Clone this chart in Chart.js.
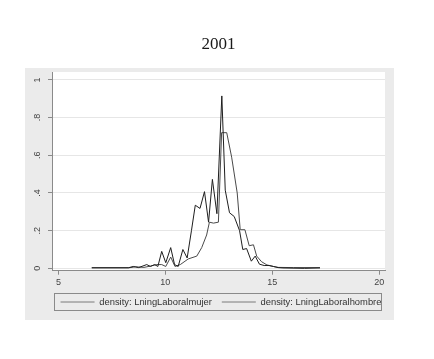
<!DOCTYPE html>
<html>
<head>
<meta charset="utf-8">
<script src="https://cdn.jsdelivr.net/npm/chart.js@4/dist/chart.umd.min.js"></script>
<style>
  html, body { margin: 0; padding: 0; background: #ffffff; }
  #wrap { width: 434px; height: 359px; }
</style>
</head>
<body>
<div id="wrap"><canvas id="c" width="434" height="359"></canvas></div>
<script>
const chartTitle = "2001";
const seriesNames = ["density: LningLaboralmujer", "density: LningLaboralhombre"];

const xMujer = [6.56, 8.27, 8.5, 8.75, 9.13, 9.3, 9.5, 9.65, 9.83, 10.02, 10.25, 10.43, 10.6, 10.82, 11.02, 11.22, 11.4, 11.62, 11.83, 12.02, 12.2, 12.41, 12.64, 12.8, 13.0, 13.22, 13.47, 13.62, 13.8, 14.02, 14.2, 14.4, 14.62, 14.85, 15.05, 15.27, 15.5, 16.5, 17.23];
const yMujer = [0.003, 0.003, 0.01, 0.004, 0.02, 0.01, 0.02, 0.01, 0.09, 0.03, 0.11, 0.02, 0.01, 0.10, 0.055, 0.2, 0.335, 0.318, 0.407, 0.245, 0.472, 0.29, 0.915, 0.415, 0.295, 0.275, 0.2, 0.1, 0.105, 0.038, 0.065, 0.022, 0.015, 0.015, 0.01, 0.004, 0.002, 0.0, 0.002];

const xHombre = [6.56, 8.3, 8.6, 9.0, 9.3, 9.6, 9.83, 10.02, 10.25, 10.45, 10.7, 11.07, 11.47, 11.7, 11.93, 12.06, 12.25, 12.48, 12.63, 12.87, 13.1, 13.36, 13.5, 13.72, 13.92, 14.12, 14.27, 14.5, 14.75, 15.05, 15.28, 16.0, 17.23];
const yHombre = [0.003, 0.003, 0.008, 0.005, 0.012, 0.02, 0.02, 0.01, 0.06, 0.01, 0.02, 0.05, 0.065, 0.11, 0.177, 0.245, 0.24, 0.245, 0.72, 0.72, 0.59, 0.40, 0.205, 0.205, 0.12, 0.125, 0.065, 0.035, 0.018, 0.01, 0.005, 0.004, 0.004];

const xTicks = [5, 10, 15, 20];
const yTicks = [0, 0.2, 0.4, 0.6, 0.8, 1];
const yTickLabels = ["0", ".2", ".4", ".6", ".8", "1"];

function toPoints(xs, ys) { return xs.map((x, i) => ({ x: x, y: ys[i] })); }

const panelPlugin = {
  id: 'panel',
  beforeDraw(chart) {
    const ctx = chart.ctx;
    const a = chart.chartArea;
    ctx.save();
    ctx.fillStyle = '#ebebeb';
    ctx.fillRect(25, 68, 369, 252);
    ctx.fillStyle = '#ffffff';
    ctx.fillRect(a.left, a.top, a.right - a.left, a.bottom - a.top);
    ctx.restore();
  },
  afterDraw(chart) {
    const lg = chart.legend;
    if (!lg) return;
    const ctx = chart.ctx;
    const a = chart.chartArea;
    const pad = lg.options.labels.padding;
    const rowTop = lg.top + pad;
    ctx.save();
    ctx.strokeStyle = '#8a8a8a';
    ctx.lineWidth = 1;
    ctx.strokeRect(Math.round(a.left + 2) + 0.5, Math.round(rowTop - 4) + 0.5, Math.round(a.right - a.left - 6), 17);
    ctx.restore();
  }
};

new Chart(document.getElementById('c'), {
  type: 'line',
  data: {
    datasets: [
      { label: seriesNames[0], data: toPoints(xMujer, yMujer), borderColor: '#1e1e1e', borderWidth: 1, pointRadius: 0, tension: 0, fill: false },
      { label: seriesNames[1], data: toPoints(xHombre, yHombre), borderColor: '#4a4a4a', borderWidth: 1, pointRadius: 0, tension: 0, fill: false }
    ]
  },
  options: {
    responsive: false,
    animation: false,
    events: [],
    layout: { padding: { top: 34.8, left: 8, right: 0, bottom: 42.3 } },
    plugins: {
      title: {
        display: true, text: chartTitle, fullSize: false,
        font: { family: 'Liberation Serif', size: 17, weight: 'normal' },
        color: '#1a1a1a',
        padding: { top: 0, bottom: 16.8 }
      },
      legend: {
        display: true, position: 'bottom', fullSize: true,
        labels: {
          usePointStyle: true, pointStyle: 'line', pointStyleWidth: 34,
          padding: 10,
          font: { family: 'Liberation Sans', size: 9.4 },
          color: '#333333',
          generateLabels(chart) {
            const items = Chart.defaults.plugins.legend.labels.generateLabels(chart);
            items.forEach(it => { it.strokeStyle = '#7a7a7a'; it.lineWidth = 1; });
            return items;
          }
        }
      },
      tooltip: { enabled: false }
    },
    scales: {
      x: {
        type: 'linear', min: 4.7, max: 20.27,
        afterBuildTicks(s) { s.ticks = xTicks.map(v => ({ value: v })); },
        afterFit(s) { s.height = 16.6; },
        grid: { drawOnChartArea: false, drawTicks: true, tickLength: 4, tickColor: '#8a8a8a' },
        border: { color: '#8a8a8a', width: 1 },
        ticks: { font: { family: 'Liberation Sans', size: 9 }, color: '#444444', padding: 2, maxRotation: 0, minRotation: 0 }
      },
      y: {
        type: 'linear', min: -0.0125, max: 1.042,
        afterBuildTicks(s) { s.ticks = yTicks.map(v => ({ value: v })); },
        afterFit(s) { s.width = 44; },
        grid: { color: '#e6e6e6', drawTicks: true, tickLength: 4, tickColor: '#8a8a8a' },
        border: { color: '#8a8a8a', width: 1 },
        ticks: {
          font: { family: 'Liberation Sans', size: 9 }, color: '#444444', padding: 7,
          minRotation: 90, maxRotation: 90, crossAlign: 'center',
          callback(v) { const i = yTicks.indexOf(v); return i >= 0 ? yTickLabels[i] : ''; }
        }
      },
      spacer: {
        type: 'linear', position: 'right', display: true,
        afterFit(s) { s.width = 49; },
        grid: { display: false, drawTicks: false },
        border: { display: false },
        ticks: { display: false }
      }
    }
  },
  plugins: [panelPlugin]
});
</script>
</body>
</html>
